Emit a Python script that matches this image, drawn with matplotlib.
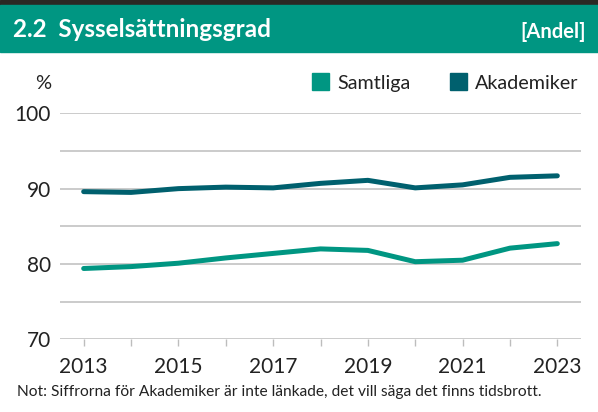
import matplotlib.pyplot as plt
from matplotlib.patches import Rectangle

plt.rcParams['font.family'] = ['Lato', 'DejaVu Sans']

years = [2013, 2014, 2015, 2016, 2017, 2018, 2019, 2020, 2021, 2022, 2023]
samtliga = [79.4, 79.65, 80.1, 80.8, 81.4, 82.0, 81.8, 80.3, 80.5, 82.1, 82.7]
akademiker = [89.6, 89.5, 90.0, 90.2, 90.1, 90.7, 91.1, 90.1, 90.5, 91.5, 91.7]
xlabels = [2013, 2015, 2017, 2019, 2021, 2023]

green = '#009682'
dark = '#00606e'
txt = '#222222'

fig = plt.figure(figsize=(5.98, 4.12), dpi=100)

# header strip
fig.patches.append(Rectangle((0, 1 - 5/412), 1, 5/412, transform=fig.transFigure,
                             color='#2b2824', zorder=0))
fig.patches.append(Rectangle((0, 1 - 52/412), 1, 47/412, transform=fig.transFigure,
                             color=green, zorder=0))
fig.text(13/598, 1 - 37/412, '2.2  Sysselsättningsgrad', color='white',
         fontsize=17.5, fontweight='bold', va='baseline', ha='left')
fig.text(586/598, 1 - 38/412, '[Andel]', color='white',
         fontsize=14.5, fontweight='bold', va='baseline', ha='right')

ax = fig.add_axes([60/598, 72.7/412, 521/598, 226/412])
ax.plot(years, samtliga, color=green, lw=3.6, solid_capstyle='round',
        solid_joinstyle='round', label='Samtliga', zorder=3)
ax.plot(years, akademiker, color=dark, lw=3.6, solid_capstyle='round',
        solid_joinstyle='round', label='Akademiker', zorder=3)

ax.set_xlim(2012.5, 2023.5)
ax.set_ylim(70, 100)
ax.set_yticks([70, 75, 80, 85, 90, 95, 100])
ax.set_yticklabels(['70', '', '80', '', '90', '', '100'])
ax.set_xticks(years)
ax.set_xticklabels([str(y) if y in xlabels else '' for y in years])
ax.grid(axis='y', color='#bdbdbd', lw=1.1)
ax.set_axisbelow(True)
for s in ax.spines.values():
    s.set_visible(False)
ax.tick_params(axis='y', length=0, pad=6.5, labelsize=15, labelcolor=txt)
ax.tick_params(axis='x', length=5, width=1, color='#bdbdbd', pad=8,
               labelsize=15, labelcolor=txt)

fig.text(43/598, 1 - 89/412, '%', fontsize=14.5, color=txt, ha='center', va='baseline')

# legend
for x0, lbl, c in [(312, 'Samtliga', green), (450, 'Akademiker', dark)]:
    fig.patches.append(Rectangle((x0/598, 1 - 90/412), 17/598, 17/412,
                                 transform=fig.transFigure, color=c))
    fig.text((x0 + 25)/598, 1 - 89/412, lbl, fontsize=14.2, color=txt,
             ha='left', va='baseline')

fig.text(17/598, 1 - 396/412,
         'Not: Siffrorna för Akademiker är inte länkade, det vill säga det finns tidsbrott.',
         fontsize=11.2, color=txt, ha='left', va='baseline')

fig.savefig('out.png', dpi=100)
